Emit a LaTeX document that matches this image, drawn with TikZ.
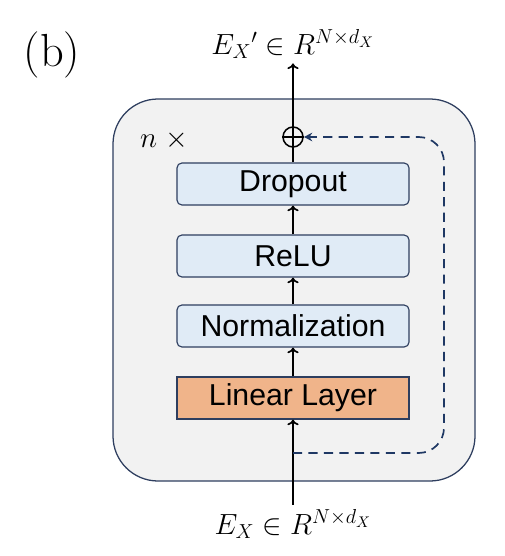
\documentclass[tikz,border=0pt]{standalone}
\usepackage{fontspec}
\usetikzlibrary{arrows.meta}
\newfontfamily\boxfont{Liberation Sans}
\definecolor{framegray}{HTML}{F2F2F2}
\definecolor{frameline}{HTML}{2E3E5F}
\definecolor{layerblue}{HTML}{E0EBF6}
\definecolor{layerorange}{HTML}{F0B48A}
\definecolor{skipnavy}{HTML}{1F3864}
\begin{document}
\begin{tikzpicture}
		[x=0.025cm,y=-0.025cm,
		layer/.style={draw=frameline,line width=0.8pt,fill=layerblue,rounded corners=3.5pt,
			minimum width=5.8cm,minimum height=1.05cm,inner sep=0pt,
			font=\boxfont\fontsize{21.5}{24}\selectfont},
		linear/.style={layer,fill=layerorange,rounded corners=0pt},
		flow/.style={-{To[length=4pt,width=8pt]},line width=1.2pt},
		mathlabel/.style={font=\fontsize{21}{24}\selectfont}]
		\useasboundingbox (0,0) rectangle (504,556);
		% repeated block
		\draw[draw=frameline,fill=framegray,line width=0.9pt,rounded corners=32pt]
			(113,99) rectangle (475,481);
		\node[font=\fontsize{33}{36}\selectfont,name=tag] at (52,55) {(b)};
		\node[mathlabel,name=rep] at (164,140) {$n\;\times$};
		% layers
		\node[linear,name=lin] at (293,398) {Linear Layer};
		\node[layer,name=norm] at (293,326) {Normalization};
		\node[layer,name=relu] at (293,256) {ReLU};
		\node[layer,name=drop] at (293,184) {Dropout};
		\node[draw,circle,line width=1.1pt,minimum size=0.5cm,inner sep=0pt,name=add] at (293,137) {};
		\draw[line width=1.1pt] (add.north) -- (add.south) (add.west) -- (add.east);
		% input and output
		\node[mathlabel,name=in] at (293,524) {$E_X\in R^{N\times d_X}$};
		\node[mathlabel,name=out] at (293,44) {$E_X{}'\in R^{N\times d_X}$};
		\coordinate (split) at (293,453);
		\draw[flow] (in.north) -- (lin.south);
		\draw[flow] (lin.north) -- (norm.south);
		\draw[flow] (norm.north) -- (relu.south);
		\draw[flow] (relu.north) -- (drop.south);
		\draw[line width=1.2pt] (drop.north) -- (add.south);
		\draw[flow] (add.north) -- (out.south);
		% skip connection
		\draw[-{Stealth[length=6pt,width=6pt]},skipnavy,line width=1.2pt,dash pattern=on 6.5pt off 4.5pt,rounded corners=18pt]
			(split) -- (444,453) -- (444,137) -- (add.east);
	\end{tikzpicture}
\end{document}
